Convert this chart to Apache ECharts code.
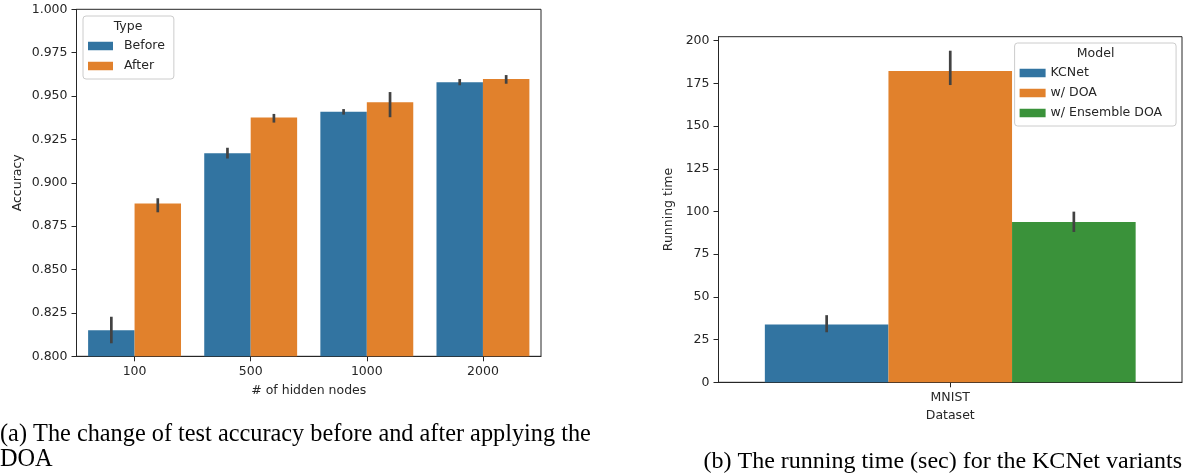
<!DOCTYPE html>
<html>
<head>
<meta charset="utf-8">
<script src="https://cdn.jsdelivr.net/npm/echarts@6/dist/echarts.min.js"></script>
<style>html,body{margin:0;padding:0;background:#fff;}#c{width:1183px;height:476px;}</style>
</head>
<body>
<div id="c"></div>
<script>
// ---- Data: left chart (accuracy) ----
const hiddenNodes = ['100', '500', '1000', '2000'];
const beforeAcc = [0.815, 0.917, 0.941, 0.958];
const beforeLo = [0.8075, 0.914, 0.9393, 0.9562];
const beforeHi = [0.8228, 0.9202, 0.9425, 0.9598];
const afterAcc = [0.888, 0.9377, 0.9464, 0.9598];
const afterLo = [0.883, 0.9347, 0.9378, 0.9571];
const afterHi = [0.8911, 0.9397, 0.9523, 0.9621];
const accTicks = [0.800, 0.825, 0.850, 0.875, 0.900, 0.925, 0.950, 0.975, 1.000];

// ---- Data: right chart (running time) ----
const datasets = ['MNIST'];
const kcnetTime = [33.8];
const kcnetLo = [29.3];
const kcnetHi = [39.3];
const doaTime = [182.2];
const doaLo = [174.0];
const doaHi = [194.1];
const ensTime = [93.8];
const ensLo = [88.0];
const ensHi = [99.9];
const timeTicks = [0, 25, 50, 75, 100, 125, 150, 175, 200];

const TXT = '#262626';
const FONT = 'DejaVu Sans';
const FS = 12.5;

function errRender(offsetFrac) {
  return function (params, api) {
    const idx = api.value(0);
    const p1 = api.coord([idx, api.value(1)]);
    const p2 = api.coord([idx, api.value(2)]);
    const bw = api.size([1, 0])[0];
    const x = p1[0] + offsetFrac * bw;
    return {
      type: 'line',
      shape: { x1: x, y1: p1[1], x2: x, y2: p2[1] },
      style: { stroke: '#424242', lineWidth: 2.7 }
    };
  };
}
function errData(lo, hi) {
  return lo.map((v, i) => [i, v, hi[i]]);
}

const axisCommon = {
  axisLine: { show: true, lineStyle: { color: TXT, width: 1 } },
  axisTick: { show: true, length: 5, lineStyle: { color: TXT, width: 1 } },
  axisLabel: { color: TXT, fontFamily: FONT, fontSize: FS },
  splitLine: { show: false },
  nameTextStyle: { color: TXT, fontFamily: FONT, fontSize: FS }
};

const chart = echarts.init(document.getElementById('c'), null, { renderer: 'canvas' });
chart.setOption({
  animation: false,
  backgroundColor: '#fff',
  grid: [
    { left: 76.5, top: 9.3, width: 464.5, height: 347, show: true, borderColor: TXT, borderWidth: 1, backgroundColor: 'transparent', containLabel: false, outerBoundsMode: 'none' },
    { left: 718.5, top: 36.7, width: 463.5, height: 345.6, show: true, borderColor: TXT, borderWidth: 1, backgroundColor: 'transparent', containLabel: false, outerBoundsMode: 'none' }
  ],
  xAxis: [
    Object.assign({}, axisCommon, {
      type: 'category', gridIndex: 0, data: hiddenNodes,
      name: '# of hidden nodes', nameLocation: 'middle', nameGap: 28,
      axisTick: Object.assign({}, axisCommon.axisTick, { alignWithLabel: true }),
      axisLabel: Object.assign({}, axisCommon.axisLabel, { margin: 9 })
    }),
    Object.assign({}, axisCommon, {
      type: 'category', gridIndex: 1, data: datasets,
      name: 'Dataset', nameLocation: 'middle', nameGap: 25,
      axisTick: Object.assign({}, axisCommon.axisTick, { alignWithLabel: true }),
      axisLabel: Object.assign({}, axisCommon.axisLabel, { margin: 9 })
    })
  ],
  yAxis: [
    Object.assign({}, axisCommon, {
      type: 'value', gridIndex: 0, min: 0.8, max: 1.0,
      name: 'Accuracy', nameLocation: 'middle', nameGap: 52,
      axisTick: Object.assign({}, axisCommon.axisTick, { customValues: accTicks }),
      axisLabel: Object.assign({}, axisCommon.axisLabel, { margin: 9, customValues: accTicks, formatter: v => v.toFixed(3) })
    }),
    Object.assign({}, axisCommon, {
      type: 'value', gridIndex: 1, min: 0, max: 202.3,
      name: 'Running time', nameLocation: 'middle', nameGap: 43,
      axisTick: Object.assign({}, axisCommon.axisTick, { customValues: timeTicks }),
      axisLabel: Object.assign({}, axisCommon.axisLabel, { margin: 9, customValues: timeTicks })
    })
  ],
  legend: [
    {
      left: 83, top: 16, orient: 'vertical', data: ['Before', 'After'],
      icon: 'rect', itemWidth: 25, itemHeight: 8.5, itemGap: 6,
      padding: [23, 9, 6, 5], borderColor: '#cccccc', borderWidth: 1, borderRadius: 3,
      backgroundColor: 'rgba(255,255,255,0.8)',
      textStyle: { color: TXT, fontFamily: FONT, fontSize: FS, lineHeight: 14, padding: [0, 0, 0, 6] },
      selectedMode: false
    },
    {
      left: 1014.6, top: 43, orient: 'vertical', data: ['KCNet', 'w/ DOA', 'w/ Ensemble DOA'],
      icon: 'rect', itemWidth: 26, itemHeight: 8.5, itemGap: 6,
      padding: [23, 14, 6, 5], borderColor: '#cccccc', borderWidth: 1, borderRadius: 3,
      backgroundColor: 'rgba(255,255,255,0.8)',
      textStyle: { color: TXT, fontFamily: FONT, fontSize: FS, lineHeight: 14 },
      selectedMode: false
    }
  ],
  graphic: [
    { type: 'text', x: 128, y: 26.7, z: 200, style: { text: 'Type', fill: TXT, font: FS + 'px "DejaVu Sans"', align: 'center', verticalAlign: 'middle' } },
    { type: 'text', x: 1095.6, y: 53.7, z: 200, style: { text: 'Model', fill: TXT, font: FS + 'px "DejaVu Sans"', align: 'center', verticalAlign: 'middle' } },
    { type: 'text', x: 0, y: 422.5, style: { text: '(a) The change of test accuracy before and after applying the\nDOA', fill: '#000', font: '24.3px "Liberation Serif"', lineHeight: 25, align: 'left', verticalAlign: 'top' } },
    { type: 'text', x: 1182, y: 449.5, style: { text: '(b) The running time (sec) for the KCNet variants', fill: '#000', font: '24px "Liberation Serif"', lineHeight: 25, align: 'right', verticalAlign: 'top' } }
  ],
  series: [
    { type: 'bar', name: 'Before', xAxisIndex: 0, yAxisIndex: 0, data: beforeAcc, barGap: '0%', barCategoryGap: '20%', itemStyle: { color: '#3274a1' } },
    { type: 'bar', name: 'After', xAxisIndex: 0, yAxisIndex: 0, data: afterAcc, barGap: '0%', barCategoryGap: '20%', itemStyle: { color: '#e1812c' } },
    { type: 'custom', name: 'Before err', xAxisIndex: 0, yAxisIndex: 0, data: errData(beforeLo, beforeHi), encode: { x: 0, y: [1, 2] }, renderItem: errRender(-0.2), z: 10 },
    { type: 'custom', name: 'After err', xAxisIndex: 0, yAxisIndex: 0, data: errData(afterLo, afterHi), encode: { x: 0, y: [1, 2] }, renderItem: errRender(0.2), z: 10 },
    { type: 'bar', name: 'KCNet', xAxisIndex: 1, yAxisIndex: 1, data: kcnetTime, barGap: '0%', barCategoryGap: '20%', itemStyle: { color: '#3274a1' } },
    { type: 'bar', name: 'w/ DOA', xAxisIndex: 1, yAxisIndex: 1, data: doaTime, barGap: '0%', barCategoryGap: '20%', itemStyle: { color: '#e1812c' } },
    { type: 'bar', name: 'w/ Ensemble DOA', xAxisIndex: 1, yAxisIndex: 1, data: ensTime, barGap: '0%', barCategoryGap: '20%', itemStyle: { color: '#3a923a' } },
    { type: 'custom', name: 'KCNet err', xAxisIndex: 1, yAxisIndex: 1, data: errData(kcnetLo, kcnetHi), encode: { x: 0, y: [1, 2] }, renderItem: errRender(-0.8 / 3), z: 10 },
    { type: 'custom', name: 'DOA err', xAxisIndex: 1, yAxisIndex: 1, data: errData(doaLo, doaHi), encode: { x: 0, y: [1, 2] }, renderItem: errRender(0), z: 10 },
    { type: 'custom', name: 'Ens err', xAxisIndex: 1, yAxisIndex: 1, data: errData(ensLo, ensHi), encode: { x: 0, y: [1, 2] }, renderItem: errRender(0.8 / 3), z: 10 }
  ]
});
</script>
</body>
</html>
